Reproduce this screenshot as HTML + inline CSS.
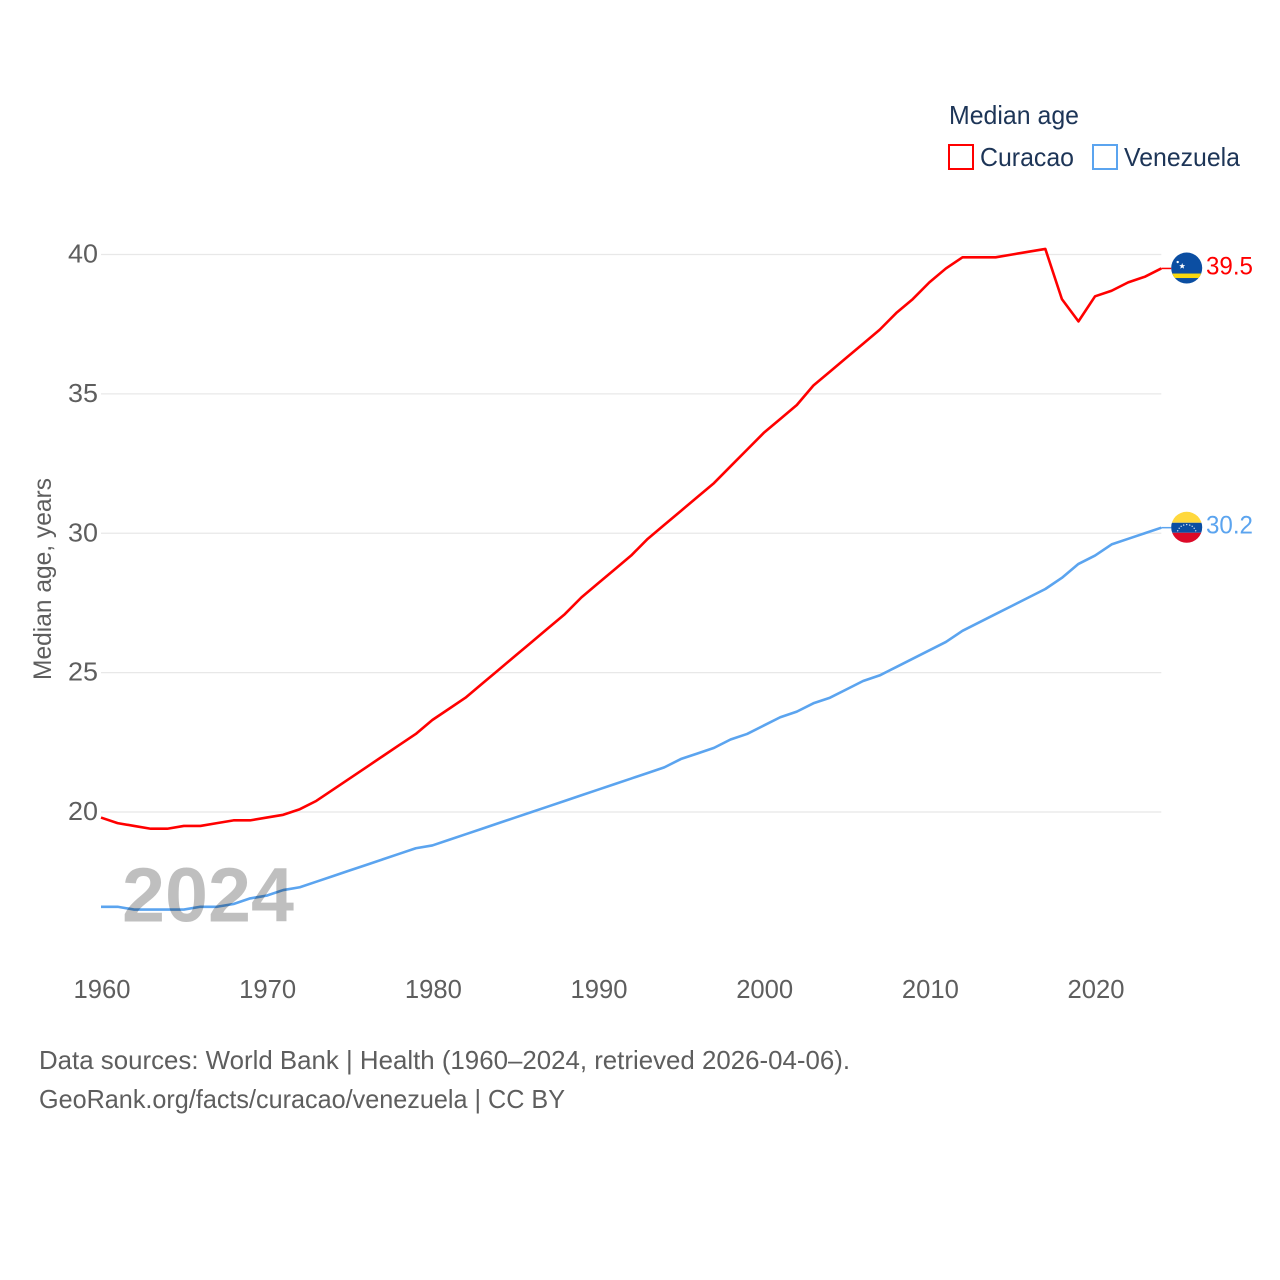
<!DOCTYPE html>
<html lang="en">
<head>
<meta charset="utf-8">
<title>Median age: Curacao and Venezuela</title>
<style>
html,body{margin:0;padding:0;background:#fff}
svg{display:block}
text{font-family:"Liberation Sans",sans-serif}
</style>
</head>
<body>
<svg id="chart" xmlns="http://www.w3.org/2000/svg" width="1280" height="1280" viewBox="0 0 1280 1280">
  <defs>
    <clipPath id="flag-clip"><circle cx="0" cy="0" r="15.5"></circle></clipPath>
  </defs>
  <rect x="0" y="0" width="1280" height="1280" fill="#fff"></rect>
  <g id="grid"></g>
  <g id="yticks"></g>
  <g id="xticks"></g>
  <g id="series"></g>
  <text x="122" y="921.5" font-size="77" font-weight="700" fill="#000" fill-opacity="0.25" textLength="172" lengthAdjust="spacingAndGlyphs">2024</text>
  <text transform="translate(51,680) rotate(-90)" font-size="25" fill="#5e5e5e" textLength="202" lengthAdjust="spacingAndGlyphs">Median age, years</text>
  <g>
    <text x="949" y="124" font-size="26" fill="#1d3557" textLength="130" lengthAdjust="spacingAndGlyphs">Median age</text>
    <rect x="949" y="145" width="24" height="24" fill="none" stroke="#ff0000" stroke-width="2"></rect>
    <text x="980" y="166" font-size="26" fill="#1d3557" textLength="94" lengthAdjust="spacingAndGlyphs">Curacao</text>
    <rect x="1093" y="145" width="24" height="24" fill="none" stroke="#5ba4ef" stroke-width="2"></rect>
    <text x="1124" y="166" font-size="26" fill="#1d3557" textLength="116" lengthAdjust="spacingAndGlyphs">Venezuela</text>
  </g>
  <g id="flag-curacao" clip-path="url(#flag-clip)">
    <rect x="-16" y="-16" width="32" height="32" fill="#0b4ea2"></rect>
    <rect x="-16" y="5.5" width="32" height="4.5" fill="#f9d90f"></rect>
    <polygon points="-4.5,-5 -3.7,-2.9 -1.5,-2.9 -3.2,-1.5 -2.6,0.6 -4.5,-0.6 -6.4,0.6 -5.8,-1.5 -7.5,-2.9 -5.3,-2.9" fill="#fff"></polygon>
    <circle cx="-9" cy="-6" r="1.2" fill="#fff"></circle>
  </g>
  <g id="flag-venezuela" clip-path="url(#flag-clip)">
    <rect x="-16" y="-16" width="32" height="11.5" fill="#ffd83d"></rect>
    <rect x="-16" y="-4.5" width="32" height="10" fill="#0b4ea2"></rect>
    <rect x="-16" y="5.5" width="32" height="10.5" fill="#dc0a28"></rect>
    <g fill="#fff" fill-opacity="0.85">
      <circle cx="-9" cy="3.5" r="0.7"></circle><circle cx="-7.5" cy="1" r="0.7"></circle><circle cx="-5.5" cy="-1" r="0.7"></circle><circle cx="-3" cy="-2.2" r="0.7"></circle><circle cx="0" cy="-2.7" r="0.7"></circle><circle cx="3" cy="-2.2" r="0.7"></circle><circle cx="5.5" cy="-1" r="0.7"></circle><circle cx="7.5" cy="1" r="0.7"></circle><circle cx="9" cy="3.5" r="0.7"></circle>
    </g>
  </g>
  <g id="end-labels"></g>
  <text x="39" y="1069" font-size="26" fill="#5e5e5e" textLength="811" lengthAdjust="spacingAndGlyphs">Data sources: World Bank | Health (1960–2024, retrieved 2026-04-06).</text>
  <text x="39" y="1108" font-size="26" fill="#5e5e5e" textLength="526" lengthAdjust="spacingAndGlyphs">GeoRank.org/facts/curacao/venezuela | CC BY</text>
</svg>
<script>
const startYear = 1960;
const curacaoValues = [19.8,19.6,19.5,19.4,19.4,19.5,19.5,19.6,19.7,19.7,19.8,19.9,20.1,20.4,20.8,21.2,21.6,22.0,22.4,22.8,23.3,23.7,24.1,24.6,25.1,25.6,26.1,26.6,27.1,27.7,28.2,28.7,29.2,29.8,30.3,30.8,31.3,31.8,32.4,33.0,33.6,34.1,34.6,35.3,35.8,36.3,36.8,37.3,37.9,38.4,39.0,39.5,39.9,39.9,39.9,40.0,40.1,40.2,38.4,37.6,38.5,38.7,39.0,39.2,39.5];
const venezuelaValues = [16.6,16.6,16.5,16.5,16.5,16.5,16.6,16.6,16.7,16.9,17.0,17.2,17.3,17.5,17.7,17.9,18.1,18.3,18.5,18.7,18.8,19.0,19.2,19.4,19.6,19.8,20.0,20.2,20.4,20.6,20.8,21.0,21.2,21.4,21.6,21.9,22.1,22.3,22.6,22.8,23.1,23.4,23.6,23.9,24.1,24.4,24.7,24.9,25.2,25.5,25.8,26.1,26.5,26.8,27.1,27.4,27.7,28.0,28.4,28.9,29.2,29.6,29.8,30.0,30.2];
const yTickValues = [20,25,30,35,40];
const xTickYears = [1960,1970,1980,1990,2000,2010,2020];

const NS = 'http://www.w3.org/2000/svg';
function xScale(year) { return 101 + (year - 1960) * (1161.3 - 101) / 64; }
function yScale(v) { return 254.5 + (40 - v) * (812 - 254.5) / 20; }
function make(tag, attrs, parent) {
  const el = document.createElementNS(NS, tag);
  for (const k in attrs) el.setAttribute(k, attrs[k]);
  parent.appendChild(el);
  return el;
}
const gridG = document.getElementById('grid');
const yG = document.getElementById('yticks');
const xG = document.getElementById('xticks');
const seriesG = document.getElementById('series');
const endG = document.getElementById('end-labels');

yTickValues.forEach(function (v) {
  const line = make('line', {x1: xScale(1960), x2: xScale(2024), y1: yScale(v), y2: yScale(v), stroke: '#e8e8e8', 'stroke-width': 1.2}, gridG);
  
  
  const t = make('text', {x: 68, y: yScale(v) + 8, 'font-size': 26, fill: '#5e5e5e', textLength: 30, lengthAdjust: 'spacingAndGlyphs'}, yG);
  
  
  t.textContent = String(v);
});

xTickYears.forEach(function (y) {
  const t = make('text', {x: xScale(y) - 27.5, y: 998, 'font-size': 25.5, fill: '#5e5e5e', textLength: 57, lengthAdjust: 'spacingAndGlyphs'}, xG);
  
  
  t.textContent = String(y);
});

function drawSeries(values, color, key, flagId) {
  const pts = values.map(function (v, i) { return xScale(startYear + i).toFixed(2) + ',' + yScale(v).toFixed(2); }).join(' ');
  const line = make('polyline', {points: pts, fill: 'none', stroke: color, 'stroke-width': 2.6, 'stroke-linejoin': 'round'}, seriesG);
  
  
  const last = values[values.length - 1];
  const lastX = xScale(startYear + values.length - 1);
  const lastY = yScale(last);
  const conn = make('line', {x1: lastX, x2: lastX + 10, y1: lastY, y2: lastY, stroke: color, 'stroke-width': 1.5}, seriesG);
  
  
  document.getElementById(flagId).setAttribute('transform', 'translate(1186.7,' + (lastY - 0.4).toFixed(2) + ')');
  const t = make('text', {x: 1206, y: lastY + 6, 'font-size': 25, fill: color, textLength: 47, lengthAdjust: 'spacingAndGlyphs'}, endG);
  
  
  t.textContent = last.toFixed(1);
}
drawSeries(curacaoValues, '#ff0000', 'curacao', 'flag-curacao');
drawSeries(venezuelaValues, '#5ba4ef', 'venezuela', 'flag-venezuela');
</script>
</body>
</html>
